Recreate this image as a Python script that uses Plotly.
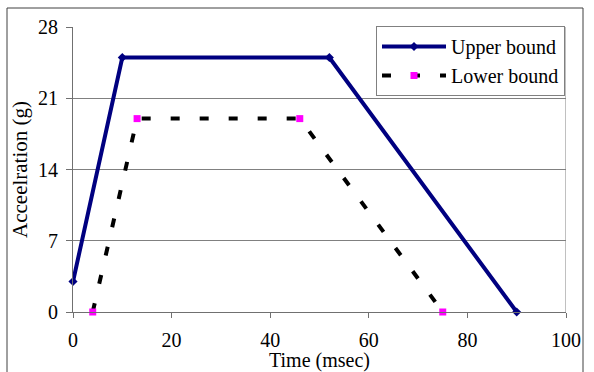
import plotly.graph_objects as go

upper_time = [0, 10, 52, 90]
upper_accel = [3, 25, 25, 0]
lower_time = [4, 13, 46, 75]
lower_accel = [0, 19, 19, 0]
x_ticks = [0, 20, 40, 60, 80, 100]
y_ticks = [0, 7, 14, 21, 28]

FONT = "Liberation Serif, Times New Roman, serif"

fig = go.Figure()
fig.add_trace(go.Scatter(
    x=upper_time, y=upper_accel, name="Upper bound", mode="lines+markers",
    line=dict(color="#000080", width=4),
    marker=dict(symbol="diamond", size=7, color="#000080"),
    cliponaxis=False,
))
fig.add_trace(go.Scatter(
    x=lower_time, y=lower_accel, name="Lower bound", mode="lines+markers",
    line=dict(color="black", width=4, dash="9px,20px"),
    marker=dict(symbol="square", size=7, color="#FF00FF"),
    cliponaxis=False,
))

W, H = 594, 372
L, R, T, B = 73, 28, 27, 60
pw, ph = W - L - R, H - T - B

def px2x(p):
    return (p - L) / pw

def px2y(p):
    return (H - B - p) / ph

fig.update_layout(
    width=W, height=H,
    margin=dict(l=L, r=R, t=T, b=B, autoexpand=False),
    paper_bgcolor="white", plot_bgcolor="white",
    font=dict(family=FONT, size=20, color="black"),
    showlegend=True,
    legend=dict(
        x=px2x(376), y=px2y(26), xanchor="left", yanchor="top",
        bgcolor="white", bordercolor="#808080", borderwidth=1,
        font=dict(family=FONT, size=20, color="black"),
        itemwidth=64, tracegroupgap=2,
    ),
    xaxis=dict(
        range=[0, 100], tickvals=x_ticks, ticktext=[str(v) for v in x_ticks],
        showgrid=False, zeroline=False, automargin=False,
        showline=True, linecolor="#707070", linewidth=1, mirror=False,
        ticks="outside", ticklen=5, tickcolor="#707070", ticklabelstandoff=5,
        title=dict(text="Time (msec)", font=dict(family=FONT, size=20), standoff=6),
        tickfont=dict(family=FONT, size=20),
    ),
    yaxis=dict(
        range=[0, 28], tickvals=y_ticks, ticktext=[str(v) for v in y_ticks],
        showgrid=True, gridcolor="#808080", gridwidth=1, zeroline=False, automargin=False,
        showline=True, linecolor="#707070", linewidth=1,
        ticks="outside", ticklen=6, tickcolor="#707070", ticklabelstandoff=4,
        title=dict(text="Acceelration (g)", font=dict(family=FONT, size=21), standoff=4),
        tickfont=dict(family=FONT, size=20),
    ),
    shapes=[
        dict(type="line", xref="x", yref="y", x0=100, x1=100, y0=0, y1=28,
             line=dict(color="#808080", width=1)),
        dict(type="rect", xref="paper", yref="paper",
             x0=px2x(7), x1=px2x(583), y0=px2y(8), y1=px2y(390),
             line=dict(color="#404040", width=1), fillcolor="rgba(0,0,0,0)",
             layer="below"),
    ],
)

fig.write_html(
    "out.html",
    config={"displayModeBar": False},
    post_script="document.body.style.margin='0';document.body.style.overflow='hidden';",
)
